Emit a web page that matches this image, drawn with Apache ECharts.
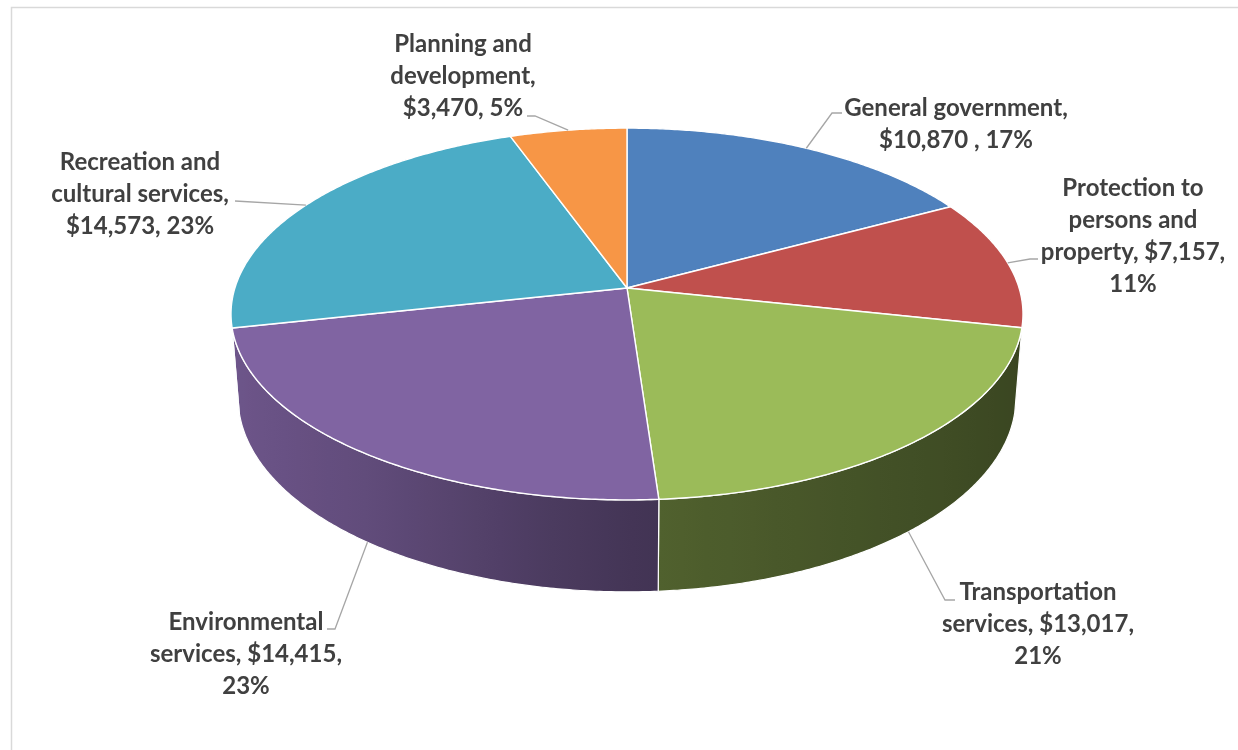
<!DOCTYPE html>
<html>
<head>
<meta charset="utf-8">
<script src="https://cdn.jsdelivr.net/npm/echarts/dist/echarts.min.js"></script>
<style>
  html, body { margin: 0; padding: 0; background: #ffffff; }
  #chart { width: 1238px; height: 750px; }
</style>
</head>
<body>
<div id="chart"></div>
<script>
// ---- data ----
const categories = [
  'General government',
  'Protection to persons and property',
  'Transportation services',
  'Environmental services',
  'Recreation and cultural services',
  'Planning and development'
];
const values = [10870, 7157, 13017, 14415, 14573, 3470];
const labelLines = [
  ['General government,', '$10,870 , 17%'],
  ['Protection to', 'persons and', 'property, $7,157,', '11%'],
  ['Transportation', 'services, $13,017,', '21%'],
  ['Environmental', 'services, $14,415,', '23%'],
  ['Recreation and', 'cultural services,', '$14,573, 23%'],
  ['Planning and', 'development,', '$3,470, 5%']
];

// ---- style ----
const colors = ['#4F81BD', '#C0504D', '#9BBB59', '#8064A2', '#4BACC6', '#F79646'];
const labelFont = 'bold 24px Lato, "Open Sans", sans-serif';
const labelColor = '#404040';
const leaderColor = '#A6A6A6';
const lineH = 32;

// label block: centre x, first-line centre y, leader start and elbow
const labelPlace = [
  { x: 956,  y: 108, from: [842, 113], elbow: [832, 113] },
  { x: 1133, y: 188, from: [1038, 259], elbow: [1030, 259] },
  { x: 1038, y: 592, from: [955, 600], elbow: [945, 600] },
  { x: 246,  y: 622, from: [327, 629], elbow: [335, 629] },
  { x: 140,  y: 162, from: [235, 201], elbow: [235, 201] },
  { x: 463,  y: 44,  from: [527, 116], elbow: [535, 116] }
];

// ---- perspective view of a cylinder (unit radius) ----
const view = {
  cx: 627, cy: 288,
  elev: 27.7 * Math.PI / 180,
  dist: 6.33,
  focal: 2482,
  depth: 0.2435
};
const SE = Math.sin(view.elev), CE = Math.cos(view.elev);

// phi: clockwise from 12 o'clock; r: radius fraction; z: 0 = top face, -depth = bottom
function project(phi, r, z) {
  const X = r * Math.sin(phi), Y = -r * Math.cos(phi);
  const den = view.dist - Y * CE - z * SE;
  return [view.cx + view.focal * X / den, view.cy + view.focal * (Y * SE - z * CE) / den];
}

// part of the rim whose outer wall faces the camera
const visEdge = Math.acos(-1 / (view.dist * CE));
const visLo = visEdge, visHi = 2 * Math.PI - visEdge;

const total = values.reduce((a, b) => a + b, 0);
const sliceAngles = [];
(function () {
  let acc = 0;
  values.forEach(v => {
    const a0 = acc / total * 2 * Math.PI;
    acc += v;
    sliceAngles.push([a0, acc / total * 2 * Math.PI]);
  });
})();

function arcPoints(a0, a1, r, z) {
  const n = Math.max(2, Math.ceil((a1 - a0) / (Math.PI / 360)));
  const pts = [];
  for (let k = 0; k <= n; k++) pts.push(project(a0 + (a1 - a0) * k / n, r, z));
  return pts;
}

function hexToRgb(h) {
  const n = parseInt(h.slice(1), 16);
  return [(n >> 16) & 255, (n >> 8) & 255, n & 255];
}
// wall brightness, lit from the left
const shadeKnots = [[-1, 0.86], [-0.6, 0.76], [-0.2, 0.60], [0, 0.53], [0.4, 0.46], [1, 0.37]];
function shadeFactor(X) {
  for (let k = 1; k < shadeKnots.length; k++) {
    if (X <= shadeKnots[k][0]) {
      const [x0, f0] = shadeKnots[k - 1], [x1, f1] = shadeKnots[k];
      return f0 + (f1 - f0) * (X - x0) / (x1 - x0);
    }
  }
  return shadeKnots[shadeKnots.length - 1][1];
}
function shade(hex, f) {
  const c = hexToRgb(hex).map(v => Math.round(v * f));
  return 'rgb(' + c.join(',') + ')';
}

function renderWall(params, api) {
  const i = params.dataIndex;
  if (!(api.value(0) > 0)) return null;
  const [a0, a1] = sliceAngles[i];
  const lo = Math.max(a0, visLo), hi = Math.min(a1, visHi);
  if (hi <= lo) return null;
  const top = arcPoints(lo, hi, 1, 0);
  const bot = arcPoints(lo, hi, 1, -view.depth);
  const points = top.concat(bot.slice().reverse());
  const xs = points.map(p => p[0]);
  const xmin = Math.min.apply(null, xs), xmax = Math.max.apply(null, xs);
  const stops = [];
  const n = 24;
  for (let k = 0; k <= n; k++) {
    const a = lo + (hi - lo) * k / n;
    const px = project(a, 1, -view.depth / 2)[0];
    const off = Math.min(1, Math.max(0, (px - xmin) / (xmax - xmin)));
    stops.push({ offset: off, color: shade(colors[i], shadeFactor(Math.sin(a))) });
  }
  stops.sort((p, q) => p.offset - q.offset);
  return {
    type: 'polygon',
    shape: { points },
    style: {
      fill: new echarts.graphic.LinearGradient(0, 0, 1, 0, stops),
      stroke: '#ffffff', lineWidth: 1.2, lineJoin: 'round'
    }
  };
}

function renderTop(params, api) {
  const i = params.dataIndex;
  if (!(api.value(0) > 0)) return null;
  const [a0, a1] = sliceAngles[i];
  const points = [project(0, 0, 0)].concat(arcPoints(a0, a1, 1, 0));
  return {
    type: 'polygon',
    shape: { points },
    style: { fill: colors[i], stroke: '#ffffff', lineWidth: 1.4, lineJoin: 'round' }
  };
}

function renderLabel(params, api) {
  const i = params.dataIndex;
  const [a0, a1] = sliceAngles[i];
  const mid = (a0 + a1) / 2;
  const onWall = mid > visLo && mid < visHi;
  const end = project(mid, 1, onWall ? -view.depth : 0);
  const pl = labelPlace[i];
  return {
    type: 'group',
    children: [
      {
        type: 'polyline',
        shape: { points: [pl.from, pl.elbow, end] },
        style: { stroke: leaderColor, lineWidth: 1.3, fill: null }
      },
      {
        type: 'text',
        style: {
          text: labelLines[i].join('\n'),
          x: pl.x, y: pl.y - lineH / 2,
          align: 'center', verticalAlign: 'top',
          font: labelFont, lineHeight: lineH,
          fill: labelColor
        }
      }
    ]
  };
}

const seriesData = values.map((v, i) => ({ name: categories[i], value: v }));

const chart = echarts.init(document.getElementById('chart'), null, { renderer: 'canvas' });
chart.setOption({
  animation: false,
  backgroundColor: '#ffffff',
  graphic: [{
    type: 'rect',
    shape: { x: 11.5, y: 7.5, width: 1400, height: 900 },
    style: { fill: null, stroke: '#D9D9D9', lineWidth: 1.5 },
    silent: true, z: 0
  }],
  series: [
    { type: 'custom', name: 'wall', coordinateSystem: 'none', data: seriesData, renderItem: renderWall, z: 1, silent: true },
    { type: 'custom', name: 'top', coordinateSystem: 'none', data: seriesData, renderItem: renderTop, z: 2 },
    { type: 'custom', name: 'labels', coordinateSystem: 'none', data: seriesData, renderItem: renderLabel, z: 3, silent: true }
  ]
});
</script>
</body>
</html>
